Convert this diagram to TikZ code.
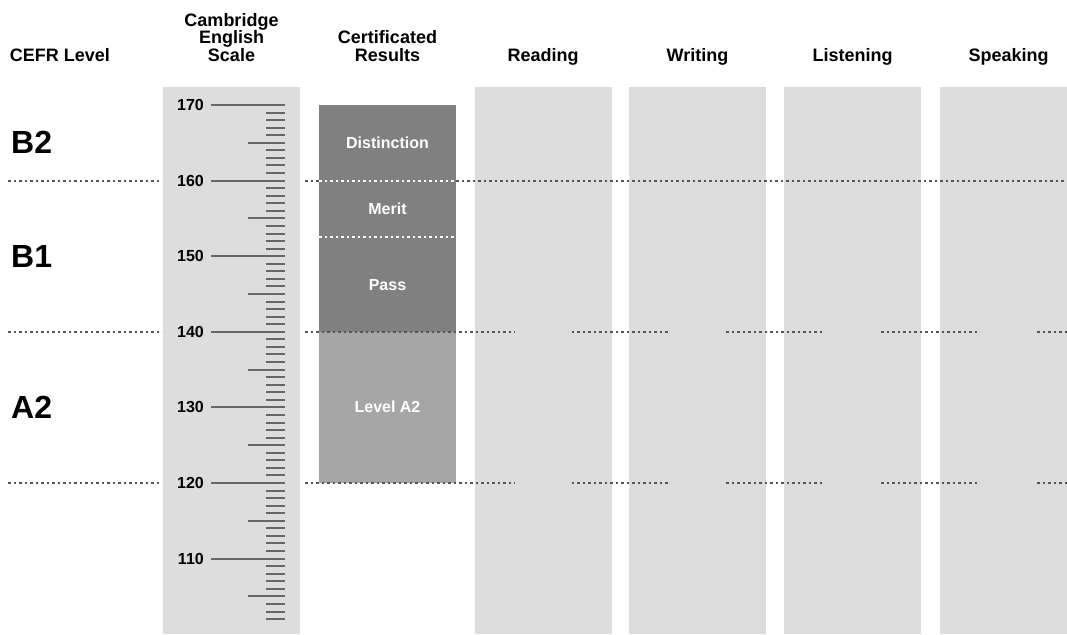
\documentclass[tikz,border=0pt]{standalone}
\usepackage{fontspec}
\setmainfont{Liberation Sans}
\usepackage{xcolor}
\definecolor{ColGrey}{HTML}{DDDDDD}
\definecolor{BoxDark}{HTML}{808080}
\definecolor{BoxLight}{HTML}{A6A6A6}
\definecolor{TickGrey}{HTML}{666666}
\definecolor{DotGrey}{HTML}{555555}

\begin{document}
\begin{tikzpicture}[x=1pt, y=-1pt]
        \tikzset{column/.style = {fill=ColGrey, minimum width=137pt, minimum height=547pt, inner sep=0pt}}
        \tikzset{resbox/.style = {minimum width=137pt, inner sep=0pt}}
        \tikzset{head/.style = {font=\fontsize{18}{17.5}\selectfont\bfseries, align=center, anchor=base, inner sep=0pt}}
        \tikzset{level/.style = {font=\fontsize{32}{32}\selectfont\bfseries, anchor=west, inner sep=0pt}}
        \tikzset{result/.style = {font=\fontsize{16}{16}\selectfont\bfseries, text=white, inner sep=0pt}}
        \tikzset{num/.style = {font=\fontsize{16}{16}\selectfont\bfseries, anchor=east, inner sep=0pt}}
        \tikzset{tick/.style = {line width=2pt, draw=TickGrey}}
        \tikzset{dots/.style = {line width=2.2pt, draw=DotGrey, dash pattern=on 2.5pt off 3pt}}
        \tikzset{dotsw/.style = {dots, draw=white}}
        \useasboundingbox (0,0) rectangle (1067,634);
        % columns
        \node[column] (scale) at (231.5,360.5) {};
        \node[column] (reading) at (543,360.5) {};
        \node[column] (writing) at (697.5,360.5) {};
        \node[column] (listening) at (852.5,360.5) {};
        \node[column, minimum width=127pt] (speaking) at (1003.5,360.5) {};

        % headers
        \node[head] (hcefr) at (60,61) {CEFR Level};
        \node[head] (hscale) at (231.5,61) {Cambridge\\English\\Scale};
        \node[head] (hresults) at (387.5,61) {Certificated\\Results};
        \node[head] (hreading) at (543,61) {Reading};
        \node[head] (hwriting) at (697.5,61) {Writing};
        \node[head] (hlistening) at (852.5,61) {Listening};
        \node[head] (hspeaking) at (1008.5,61) {Speaking};

        % certificated results
        \node[resbox, fill=BoxDark, minimum height=226.8pt] (upper) at (387.5,218.4) {};
        \node[resbox, fill=BoxLight, minimum height=151.2pt] (lower) at (387.5,407.4) {};
        \node[result] (distinction) at (387.5,143) {Distinction};
        \node[result] (merit) at (387.5,209) {Merit};
        \node[result] (pass) at (387.5,285) {Pass};
        \node[result] (levela2) at (387.5,407) {Level A2};

        % scale ticks
        \foreach \v in {102,...,170} {
            \pgfmathsetmacro\ty{105+(170-\v)*7.56}
            \pgfmathtruncatemacro\r{mod(\v,10)}
            \pgfmathtruncatemacro\f{mod(\v,5)}
            \ifnum\r=0 \def\tx{211}\else\ifnum\f=0 \def\tx{248}\else\def\tx{266}\fi\fi
            \draw[tick] (\tx,\ty) -- (285,\ty);
        }
        \foreach \v in {110,120,...,170}
            \node[num] (n\v) at (204,{105+(170-\v)*7.56}) {\v};

        % CEFR levels
        \node[level] (b2) at (11,142) {B2};
        \node[level] (b1) at (11,256) {B1};
        \node[level] (a2) at (11,407) {A2};

        % level lines
        \draw[dots] (8,180.6) -- (162,180.6);
        \draw[dots] (305,180.6) -- (319,180.6);
        \draw[dotsw] (319,180.6) -- (456,180.6);
        \draw[dots] (456,180.6) -- (1067,180.6);
        \draw[dotsw] (319,237.3) -- (456,237.3);
        \foreach \y in {331.8,483} {
            \draw[dots] (8,\y) -- (162,\y);
            \foreach \a/\b in {305/514.5, 571.5/669, 726/824, 881/980, 1037/1067}
                \draw[dots] (\a,\y) -- (\b,\y);
        }
\end{tikzpicture}
\end{document}
